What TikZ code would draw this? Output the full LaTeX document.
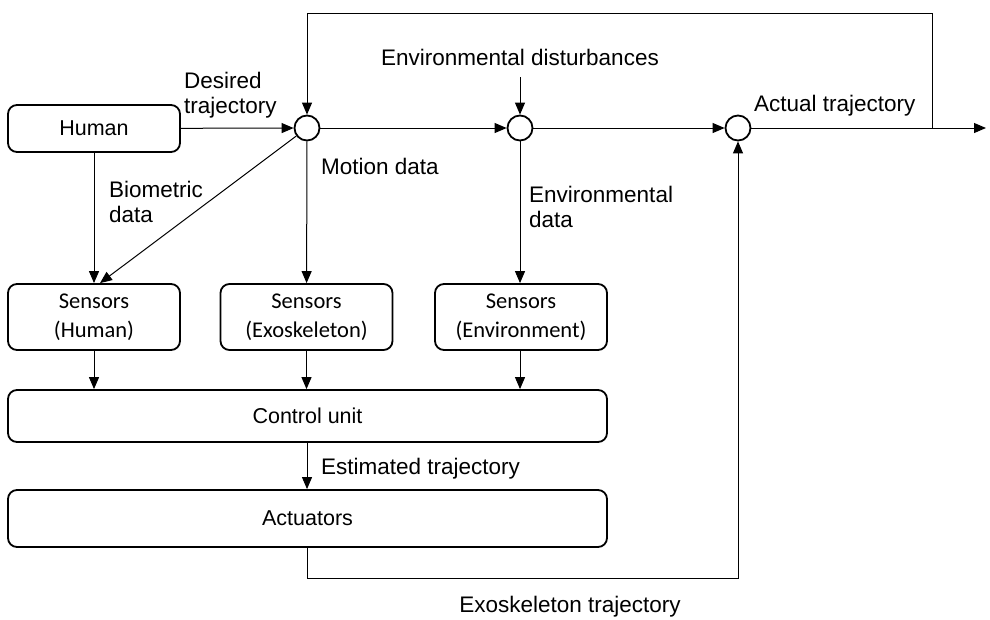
\documentclass[tikz,border=0pt]{standalone}
\usepackage{fontspec}
\setmainfont{Liberation Sans}
\newfontfamily\boxfont{Carlito}
\usetikzlibrary{arrows.meta}

\tikzset{
  blk/.style={draw,line width=1.8pt,rounded corners=9pt,font=\fontsize{21.5}{25}\selectfont},
  sensbox/.style={blk,minimum width=172pt,minimum height=66pt,align=center,font=\boxfont\fontsize{22.5}{29}\selectfont},
  sumpt/.style={draw,circle,line width=1.8pt,minimum size=25pt,inner sep=0pt},
  arr/.style={line width=1pt,-{Triangle[length=12pt,width=10pt]}},
  lbl/.style={font=\fontsize{22.5}{25}\selectfont,inner sep=0pt}
}

\begin{document}
\begin{tikzpicture}[x=1pt,y=-1pt]
\useasboundingbox (0,0) rectangle (990,619);
% blocks
\node[blk,minimum width=172pt,minimum height=47pt] (human) at (94,128.5) {Human};
\node[sensbox] (senshum) at (94,317) {Sensors\\(Human)};
\node[sensbox] (sensexo) at (306.5,317) {Sensors\\(Exoskeleton)};
\node[sensbox] (sensenv) at (521,317) {Sensors\\(Environment)};
\node[blk,minimum width=599pt,minimum height=52pt] (ctrl) at (307.5,416) {Control unit};
\node[blk,minimum width=599pt,minimum height=57pt] (act) at (307.5,518.5) {Actuators};
% summing points
\node[sumpt] (sumA) at (307,128) {};
\node[sumpt] (sumB) at (520,128) {};
\node[sumpt] (sumC) at (738,128) {};
\coordinate (fb) at (932,128);
\coordinate (fbtop) at (932,13);
\coordinate (out) at (986,128);
\coordinate (dist) at (520,77);
\coordinate (exo) at (307,578);
% labels
\node[lbl,anchor=west,align=left] (ldes) at (184,95) {Desired\\trajectory};
\node[lbl,anchor=west,align=left] (lbio) at (109,202) {Biometric\\data};
\node[lbl,anchor=west] (lmot) at (321,166) {Motion data};
\node[lbl,anchor=west,align=left] (lenv) at (529,207) {Environmental\\data};
\node[lbl] (ldist) at (520,57) {Environmental disturbances};
\node[lbl,anchor=west] (lact) at (754,106) {Actual trajectory};
\node[lbl,anchor=west] (lest) at (321,469) {Estimated trajectory};
\node[lbl] (lexo) at (570,607) {Exoskeleton trajectory};
% connectors
\draw[arr] (human) -- (sumA);
\draw[arr] (sumA) -- (sumB);
\draw[arr] (sumB) -- (sumC);
\draw[arr] (sumC) -- (out);
\draw[arr] (fb) -- (fbtop) -| (sumA);
\draw[arr] (dist) -- (sumB);
\draw[arr] (human) -- (senshum);
\draw[arr] (sumA) -- ([xshift=6pt]senshum.north);
\draw[arr] (sumA) -- (sensexo);
\draw[arr] (sumB) -- (sensenv.north -| sumB);
\draw[arr] (senshum) -- (ctrl.north -| senshum);
\draw[arr] (sensexo) -- (ctrl.north -| sensexo);
\draw[arr] (sensenv.south -| sumB) -- (ctrl.north -| sumB);
\draw[arr] (ctrl.south -| sumA) -- (act.north -| sumA);
\draw[arr] (act.south -| sumA) -- (exo) -| (sumC);
\end{tikzpicture}
\end{document}
